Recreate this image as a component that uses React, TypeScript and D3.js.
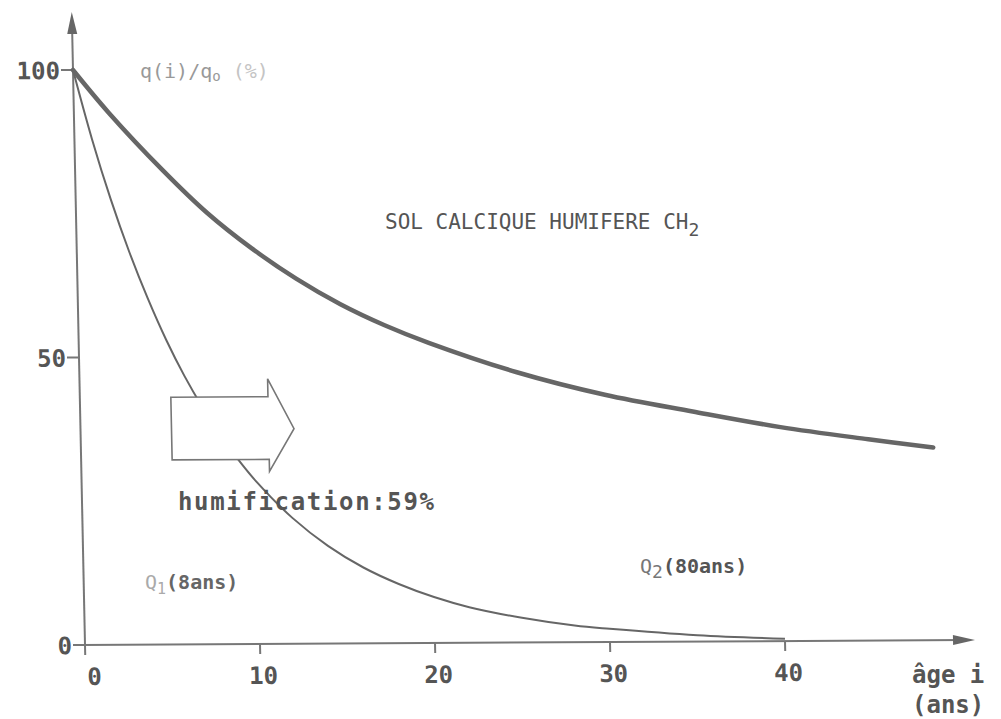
import React, { useEffect, useRef } from "react";
import * as d3 from "d3";

// age (years) and remaining fraction q(i)/q0 in %
const agesQ1 = [0, 1, 2, 3, 4, 5, 6, 7, 8, 9, 10, 12, 14, 16, 18, 20, 22, 25, 28, 30, 35, 40];
const valuesQ1 = [100, 88, 77.5, 68.3, 60.2, 53, 46.7, 41.2, 36.3, 32, 28.2, 21.9, 17, 13.2, 10.3, 8, 6.2, 4.3, 2.9, 2.3, 1.1, 0.4];

const agesQ2 = [0, 2, 5, 7.5, 10, 12.5, 15, 17.5, 20, 25, 30, 35, 40, 45, 48.7];
const valuesQ2 = [100, 92.5, 82.5, 75, 68.8, 63.5, 59, 55.3, 52.2, 47, 43, 40, 37.2, 35, 33.5];

const xTicks = [0, 10, 20, 30, 40];
const yTicks = [0, 50, 100];

// big "humification" arrow, in data units [age, %]
const arrowShape: [number, number][] = [
  [5.2, 43], [10.75, 43], [10.75, 46.1], [12.2, 37.4],
  [10.75, 30], [10.75, 32.1], [5.2, 32.1],
];

const INK = "#666";
const MONO = "'DejaVu Sans Mono', monospace";

const App: React.FC = () => {
  const ref = useRef<SVGSVGElement>(null);

  useEffect(() => {
    drawChart();
  }, []);

  const drawChart = () => {
    const width = 1001;
    const height = 719;

    const x = d3.scaleLinear().domain([0, 40]).range([85, 785]);
    const y = d3.scaleLinear().domain([0, 100]).range([645, 70]);
    const x0 = x(0);
    const y0 = y(0);

    const svg = d3.select(ref.current);
    svg.selectAll("*").remove();
    svg.attr("width", width).attr("height", height);

    svg.append("rect").attr("width", width).attr("height", height).attr("fill", "#fff");

    // the scan is slightly sheared, so the plot group is too
    const g = svg
      .append("g")
      .attr(
        "transform",
        `translate(${x0},${y0}) matrix(1,-0.0057,0.0209,1,0,0) translate(${-x0},${-y0})`
      );

    // axes
    const yTop = 12;
    const xEnd = 975;
    g.append("line")
      .attr("x1", x0).attr("y1", y0).attr("x2", x0).attr("y2", yTop + 10)
      .attr("stroke", "#777").attr("stroke-width", 2);
    g.append("path")
      .attr("d", `M${x0},${yTop} L${x0 - 5},${yTop + 22} L${x0 + 5},${yTop + 22} Z`)
      .attr("fill", "#666");
    g.append("line")
      .attr("x1", x0 - 4).attr("y1", y0).attr("x2", xEnd - 10).attr("y2", y0)
      .attr("stroke", "#777").attr("stroke-width", 2);
    g.append("path")
      .attr("d", `M${xEnd},${y0} L${xEnd - 22},${y0 - 5} L${xEnd - 22},${y0 + 5} Z`)
      .attr("fill", "#666");

    // x ticks
    g.selectAll(".xt")
      .data(xTicks)
      .join("line")
      .attr("x1", (d) => x(d)).attr("x2", (d) => x(d))
      .attr("y1", y0).attr("y2", y0 + 10)
      .attr("stroke", "#777").attr("stroke-width", 2);
    g.selectAll(".xl")
      .data(xTicks)
      .join("text")
      .attr("x", (d) => x(d) + (d === 0 ? 9 : 3))
      .attr("y", y0 + 40)
      .attr("text-anchor", "middle")
      .attr("font-family", MONO)
      .attr("font-weight", "bold")
      .attr("font-size", 24)
      .attr("fill", "#555")
      .text((d) => d);

    // y ticks
    g.selectAll(".yt")
      .data(yTicks)
      .join("line")
      .attr("x1", x0 - 12).attr("x2", x0)
      .attr("y1", (d) => y(d)).attr("y2", (d) => y(d))
      .attr("stroke", "#777").attr("stroke-width", 2);
    g.selectAll(".yl")
      .data(yTicks)
      .join("text")
      .attr("x", x0 - 13)
      .attr("y", (d) => y(d) + 9)
      .attr("text-anchor", "end")
      .attr("font-family", MONO)
      .attr("font-weight", "bold")
      .attr("font-size", 24)
      .attr("fill", "#555")
      .text((d) => d);

    const line = d3
      .line<[number, number]>()
      .x((d) => x(d[0]))
      .y((d) => y(d[1]))
      .curve(d3.curveCatmullRom.alpha(0.5));

    const q1: [number, number][] = agesQ1.map((a, i) => [a, valuesQ1[i]]);
    const q2: [number, number][] = agesQ2.map((a, i) => [a, valuesQ2[i]]);

    g.append("path")
      .attr("d", line(q1))
      .attr("fill", "none")
      .attr("stroke", INK)
      .attr("stroke-width", 2);
    g.append("path")
      .attr("d", line(q2))
      .attr("fill", "none")
      .attr("stroke", INK)
      .attr("stroke-width", 4.5)
      .attr("stroke-linecap", "round");

    // humification arrow
    g.append("path")
      .attr("d", d3.line<[number, number]>().x((d) => x(d[0])).y((d) => y(d[1]))(arrowShape) + "Z")
      .attr("fill", "#fff")
      .attr("stroke", "#777")
      .attr("stroke-width", 1.6)
      .attr("stroke-linejoin", "miter");

    // annotations
    const yLabel = svg.append("text")
      .attr("x", 140).attr("y", 78)
      .attr("font-family", MONO).attr("font-size", 20).attr("fill", "#999");
    yLabel.append("tspan").text("q(i)/q");
    yLabel.append("tspan").attr("font-size", 14).attr("dy", 3).text("o");
    yLabel.append("tspan").attr("dy", -3).attr("fill", "#c4c4c4").text(" (%)");

    const title = svg.append("text")
      .attr("x", 385).attr("y", 229)
      .attr("font-family", MONO).attr("font-size", 21).attr("fill", "#555");
    title.append("tspan").text("SOL CALCIQUE HUMIFERE CH");
    title.append("tspan").attr("font-size", 18).attr("dy", 7).text("2");

    svg.append("text")
      .attr("x", 178).attr("y", 510)
      .attr("font-family", MONO).attr("font-weight", "bold").attr("font-size", 24)
      .attr("textLength", 256).attr("lengthAdjust", "spacing")
      .attr("fill", "#555")
      .text("humification:59%");

    const q1Label = svg.append("text")
      .attr("x", 145).attr("y", 589)
      .attr("font-family", MONO).attr("font-size", 20).attr("fill", "#666");
    q1Label.append("tspan").attr("fill", "#aaa").text("Q");
    q1Label.append("tspan").attr("fill", "#aaa").attr("font-size", 15).attr("dy", 5).text("1");
    q1Label.append("tspan").attr("dy", -5).attr("font-weight", "bold").text("(8ans)");

    const q2Label = svg.append("text")
      .attr("x", 640).attr("y", 573)
      .attr("font-family", MONO).attr("font-size", 20).attr("fill", "#555");
    q2Label.append("tspan").attr("fill", "#777").text("Q");
    q2Label.append("tspan").attr("fill", "#777").attr("font-size", 18).attr("dy", 5).text("2");
    q2Label.append("tspan").attr("dy", -5).attr("font-weight", "bold").text("(80ans)");

    svg.append("text")
      .attr("x", 912).attr("y", 683)
      .attr("font-family", MONO).attr("font-weight", "bold").attr("font-size", 24)
      .attr("fill", "#555")
      .text("âge i");
    svg.append("text")
      .attr("x", 912).attr("y", 713)
      .attr("font-family", MONO).attr("font-weight", "bold").attr("font-size", 24)
      .attr("fill", "#555")
      .text("(ans)");
  };

  return <svg ref={ref} style={{ position: "absolute", left: 0, top: 0 }} />;
};

export default App;
